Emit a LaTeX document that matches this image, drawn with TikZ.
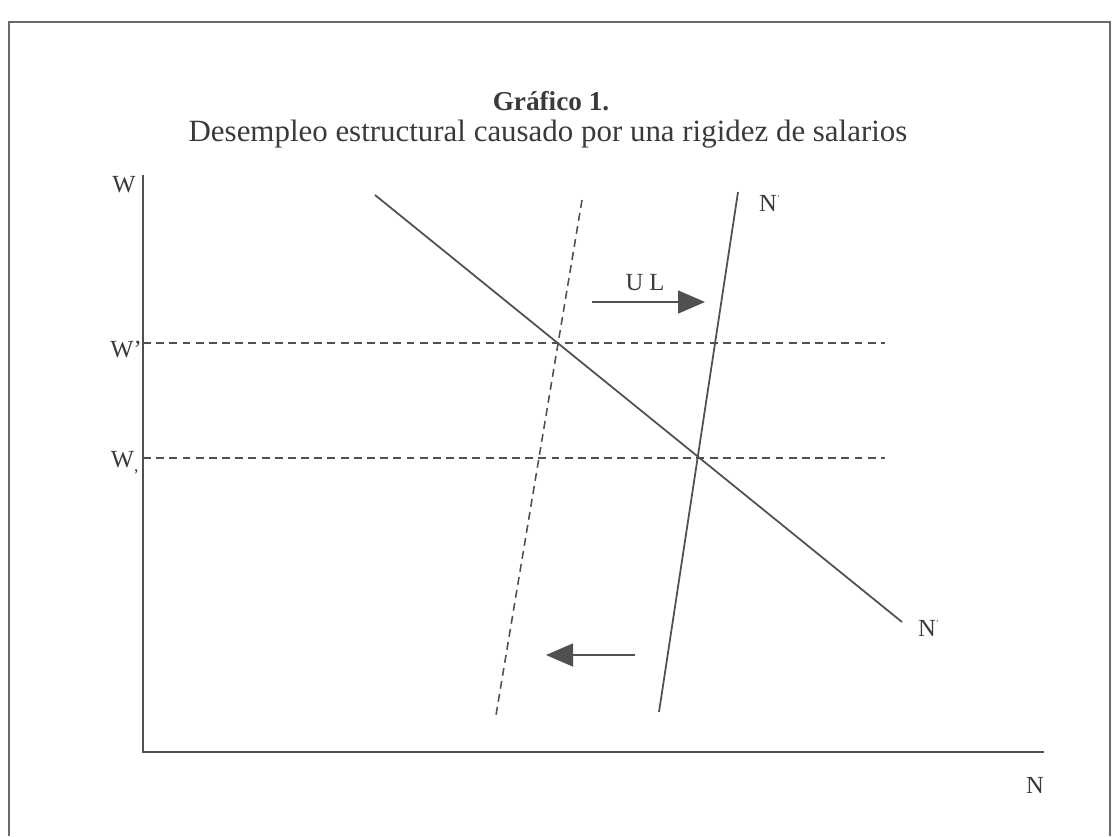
\documentclass[tikz,border=0pt]{standalone}
\usepackage{fontspec}
\setmainfont{Liberation Serif}
\usetikzlibrary{positioning,arrows.meta}
\definecolor{grline}{HTML}{505050}
\definecolor{grtext}{HTML}{3A3A3A}
\definecolor{grframe}{HTML}{6A6A6A}
\tikzset{
  axisline/.style={draw=grline, line width=1.1pt},
  curve/.style   ={draw=grline, line width=1pt},
  guide/.style   ={draw=grline, line width=0.9pt, dash pattern=on 4.5pt off 3pt},
  shiftarrow/.style={-{Triangle[length=5.4mm,width=4.6mm]}, draw=grline, fill=grline!80!black, line width=0.9pt},
  lbl/.style     ={font=\fontsize{14}{16}\selectfont, text=grtext, inner sep=0pt},
  ttl/.style     ={font=\fontsize{17.6}{20}\selectfont, text=grtext, inner sep=0pt},
}
\begin{document}
\begin{tikzpicture}[x=0.02cm,y=-0.02cm]
  \useasboundingbox (0,0) rectangle (1114,836);
  % frame round the figure
  \draw[draw=grframe, line width=1.3pt] (9,836) -- (9,22) -- (1110,22) -- (1110,836);
  % titles
  \node[ttl,font=\bfseries\fontsize{15.5}{18}\selectfont] (title) at (551,101) {Gráfico 1.};
  \node[ttl] (subtitle) at (548,134) {Desempleo estructural causado por una rigidez de salarios};
  % axes
  \coordinate (origin) at (143,752);
  \coordinate (ytop) at (143,175);
  \coordinate (xend) at (1044,752);
  \draw[axisline] (ytop) -- (origin) -- (xend);
  \node[lbl] (wlab) at (124,185) {W};
  \node[lbl] (wplab) at (126,349) {W'};
  \node[lbl] (wclab) at (125,463) {W\textsubscript{,}};
  \node[lbl] (nlab) at (1035,785) {N};
  % wage levels
  \coordinate (wpstart) at (143,343);
  \coordinate (wpend) at (885,343);
  \coordinate (wcstart) at (143,458);
  \coordinate (wcend) at (885,458);
  \draw[guide] (wpstart) -- (wpend);
  \draw[guide] (wcstart) -- (wcend);
  % labour demand
  \coordinate (dtop) at (375,195);
  \coordinate (dbot) at (902,622);
  \draw[curve] (dtop) -- (dbot);
  \node[lbl] (ndlab) at (929,628) {N\textsuperscript{\tiny ’}};
  % labour supply and shifted supply
  \coordinate (stop) at (738,192);
  \coordinate (sbot) at (659,712);
  \draw[curve] (stop) -- (sbot);
  \node[lbl] (nslab) at (770,203) {N\textsuperscript{\tiny ’}};
  \coordinate (s2top) at (582,200);
  \coordinate (s2bot) at (496,715);
  \draw[guide] (s2top) -- (s2bot);
  % shifts
  \coordinate (ulstart) at (592,302);
  \coordinate (ulend) at (705,302);
  \draw[shiftarrow] (ulstart) -- (ulend);
  \node[lbl] (ullab) at (645,283) {U L};
  \coordinate (backstart) at (635,655);
  \coordinate (backend) at (546,655);
  \draw[shiftarrow] (backstart) -- (backend);
\end{tikzpicture}
\end{document}
